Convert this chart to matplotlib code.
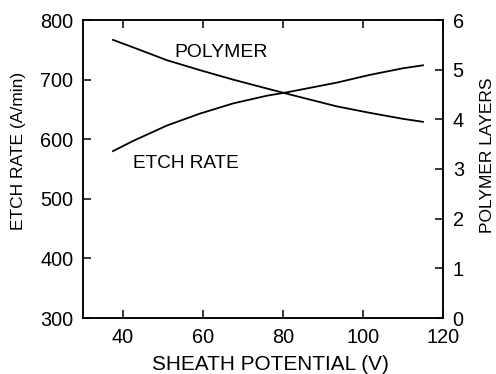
import matplotlib
matplotlib.use("Agg")
import matplotlib.pyplot as plt

plt.rcParams['font.family'] = ['Liberation Sans', 'DejaVu Sans']

potential = [37.5, 42.5, 51, 59.25, 67.5, 76, 81.25, 93.5, 101.75, 110, 115]
etch_rate = [580, 597, 623, 643, 660, 673, 679, 695, 708, 719, 724]
polymer = [5.60, 5.45, 5.19, 4.99, 4.80, 4.62, 4.51, 4.26, 4.13, 4.01, 3.95]

W, H = 496, 374
fig = plt.figure(figsize=(W / 100, H / 100), dpi=100)
ax = fig.add_axes([83 / W, 1 - 318 / H, 360 / W, 298 / H])
ax2 = ax.twinx()

ax.plot(potential, etch_rate, color='black', lw=1.3)
ax2.plot(potential, polymer, color='black', lw=1.3)

ax.set_xlim(30, 120)
ax.set_ylim(300, 800)
ax2.set_ylim(0, 6)
ax.set_xticks([40, 60, 80, 100, 120])
ax.set_yticks([300, 400, 500, 600, 700, 800])
ax2.set_yticks([0, 1, 2, 3, 4, 5, 6])

renderer = fig.canvas.get_renderer()
narrow = ['Liberation Sans Narrow', 'Liberation Sans', 'DejaVu Sans']


def fit_size(s, target, rotation=0, base=12.0, family=None):
    kw = {'family': family} if family else {}
    t = fig.text(0, 0, s, fontsize=base, rotation=rotation, **kw)
    bb = t.get_window_extent(renderer)
    length = bb.height if rotation else bb.width
    t.remove()
    return base * target / length


fs_tick = fit_size('800', 33)
ax.tick_params(axis='x', direction='in', top=True, length=6, width=1.1, labelsize=fs_tick, pad=7.5)
ax.tick_params(axis='y', direction='in', length=6, width=1.1, labelsize=fs_tick, pad=7)
ax2.tick_params(axis='y', direction='in', length=6, width=1.1, labelsize=fs_tick, pad=7)
for a in (ax, ax2):
    for s in a.spines.values():
        s.set_linewidth(1.1)

xl = 'SHEATH POTENTIAL (V)'
yl = 'ETCH RATE (A/min)'
yr = 'POLYMER LAYERS'
fig.text(270 / W, 1 - 370 / H, xl, fontsize=fit_size(xl, 236),
         ha='center', va='baseline')
fig.text(18.5 / W, 1 - 151 / H, yl, fontsize=fit_size(yl, 158, 90, family=narrow),
         family=narrow, ha='center', va='center', rotation=90)
fig.text(488 / W, 1 - 155 / H, yr, fontsize=fit_size(yr, 156, 90, family=narrow),
         family=narrow, ha='center', va='center', rotation=90)

ax.text(52.75, 738, 'POLYMER', fontsize=fit_size('POLYMER', 93), va='baseline', ha='left')
ax.text(42.5, 551.7, 'ETCH RATE', fontsize=fit_size('ETCH RATE', 106), va='baseline', ha='left')

fig.savefig('out.png', dpi=100)
